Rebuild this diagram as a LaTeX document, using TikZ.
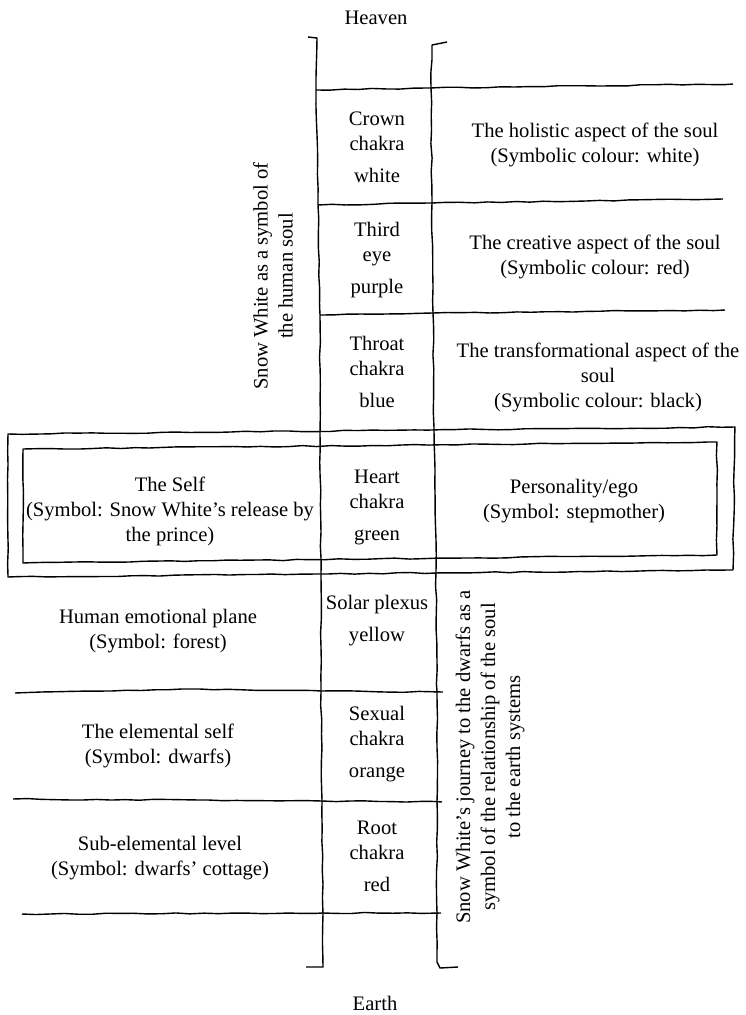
\documentclass[tikz,border=0pt]{standalone}
\usepackage{fontspec}
\setmainfont{Liberation Serif}
\usetikzlibrary{decorations.pathmorphing}
\tikzset{
  hand/.style={line width=0.7pt, line join=round, decorate,
    decoration={random steps, segment length=7pt, amplitude=0.3pt}},
  txt/.style={align=center, inner sep=0pt, font=\fontsize{10.3}{12.5}\selectfont},
}
\begin{document}
\begin{tikzpicture}[x=0.5pt,y=-0.5pt]
  \useasboundingbox (0,0) rectangle (745,1015);
  \pgfmathsetseed{11}
  \draw[hand] (308,37) -- (317,38) -- (316,90) -- (318,205) -- (320,315) -- (320,434) -- (321,577) -- (321,692) -- (322,800) -- (323,914) -- (323,967) -- (306,967);
  \draw[hand] (447,42) -- (432,45) -- (431,88) -- (432,203) -- (433,313) -- (434,428) -- (436,572) -- (437,691) -- (437,801) -- (437,913) -- (437,962) -- (440,968) -- (458,967);
  \draw[hand] (316,90) -- (431,88) -- (733,84);
  \draw[hand] (318,205) -- (432,203) -- (723,199);
  \draw[hand] (320,315) -- (433,313) -- (725,310);
  \draw[hand] (8,434) -- (735,427) -- (733,570) -- (8,577) -- cycle;
  \draw[hand] (23,449) -- (717,442) -- (717,555) -- (23,563) -- cycle;
  \draw[hand] (15,693) -- (200,689) -- (321,691) -- (443,692);
  \draw[hand] (13,799) -- (322,801) -- (442,802);
  \draw[hand] (22,914) -- (323,913) -- (441,913);
  \node[txt] (heaven) at (376,18) {Heaven};
  \node[txt] (earth) at (375,1003) {Earth};
  \node[txt] (crown) at (377,147) {Crown\\chakra\\[3.5pt]white};
  \node[txt] (thirdeye) at (377,260) {Third\\eye\\[3.5pt]purple};
  \node[txt] (throat) at (377,372) {Throat\\chakra\\[3.5pt]blue};
  \node[txt] (heart) at (377,507) {Heart\\chakra\\[3.5pt]green};
  \node[txt] (solar) at (377,621) {Solar plexus\\[3.5pt]yellow};
  \node[txt] (sacral) at (377,744) {Sexual\\chakra\\[3.5pt]orange};
  \node[txt] (root) at (377,856) {Root\\chakra\\[3.5pt]red};
  \node[txt] (holistic) at (595,145) {The holistic aspect of the soul\\(Symbolic colour: white)};
  \node[txt] (creative) at (595,257) {The creative aspect of the soul\\(Symbolic colour: red)};
  \node[txt] (transform) at (598,377) {The transformational aspect of the\\soul\\(Symbolic colour: black)};
  \node[txt] (ego) at (574,501) {Personality/ego\\(Symbol: stepmother)};
  \node[txt] (self) at (170,511) {The Self\\(Symbol: Snow White’s release by\\the prince)};
  \node[txt] (emotional) at (158,631) {Human emotional plane\\(Symbol: forest)};
  \node[txt] (elemental) at (158,746) {The elemental self\\(Symbol: dwarfs)};
  \node[txt] (subelemental) at (160,858) {Sub-elemental level\\(Symbol: dwarfs’ cottage)};
  \node[txt, rotate=90] (soullabel) at (273,276) {Snow White as a symbol of\\the human soul};
  \node[txt, rotate=90] (journeylabel) at (490,757) {Snow White’s journey to the dwarfs as a\\symbol of the relationship of the soul\\to the earth systems};
\end{tikzpicture}
\end{document}
